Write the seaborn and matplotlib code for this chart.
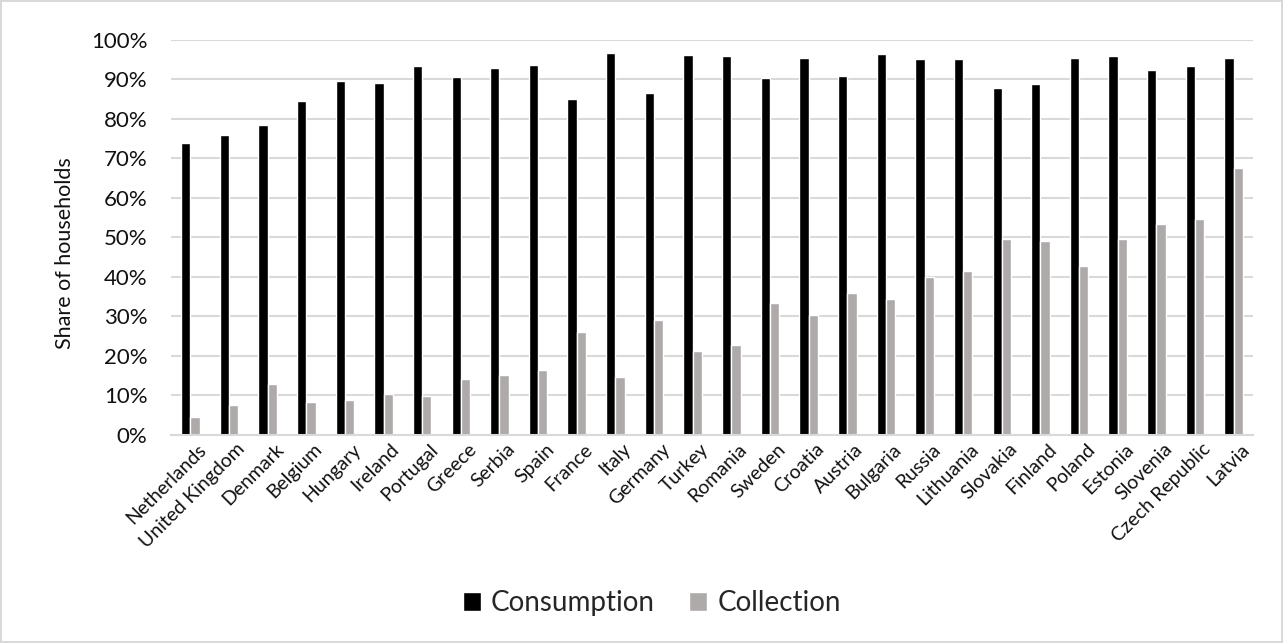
import matplotlib
matplotlib.use("Agg")
import matplotlib.pyplot as plt
import matplotlib.transforms as mtransforms
import seaborn as sns
import pandas as pd
from matplotlib.ticker import PercentFormatter, MultipleLocator

countries = [
    "Netherlands", "United Kingdom", "Denmark", "Belgium", "Hungary", "Ireland",
    "Portugal", "Greece", "Serbia", "Spain", "France", "Italy", "Germany",
    "Turkey", "Romania", "Sweden", "Croatia", "Austria", "Bulgaria", "Russia",
    "Lithuania", "Slovakia", "Finland", "Poland", "Estonia", "Slovenia",
    "Czech Republic", "Latvia",
]
consumption = [
    0.739, 0.759, 0.785, 0.845, 0.896, 0.890, 0.933, 0.907, 0.928, 0.936,
    0.850, 0.967, 0.865, 0.962, 0.960, 0.903, 0.955, 0.908, 0.964, 0.953,
    0.952, 0.878, 0.889, 0.954, 0.960, 0.925, 0.935, 0.954,
]
collection = [
    0.045, 0.077, 0.130, 0.083, 0.088, 0.105, 0.099, 0.142, 0.153, 0.165,
    0.261, 0.147, 0.291, 0.212, 0.229, 0.335, 0.304, 0.359, 0.344, 0.401,
    0.415, 0.497, 0.491, 0.427, 0.497, 0.533, 0.548, 0.676,
]
series_names = ["Consumption", "Collection"]
series_colors = ["#000000", "#aeaaaa"]

df = pd.DataFrame({
    "country": countries * 2,
    "share": consumption + collection,
    "series": [series_names[0]] * len(countries) + [series_names[1]] * len(countries),
})

sns.set_theme(style="white")
plt.rcParams["font.family"] = ["Lato", "DejaVu Sans"]

fig = plt.figure(figsize=(12.83, 6.43), dpi=100)
fig.patch.set_edgecolor("#d9d9d9")
fig.patch.set_linewidth(1.5)
ax = fig.add_axes([0.1333, 0.3235, 0.8433, 0.6143])

sns.barplot(
    data=df, x="country", y="share", hue="series",
    palette=dict(zip(series_names, series_colors)),
    width=0.48, gap=0, saturation=1, ax=ax, legend=True,
)

ax.set_ylim(0, 1)
ax.set_xlim(-0.5, len(countries) - 0.5)
ax.yaxis.set_major_locator(MultipleLocator(0.1))
ax.yaxis.set_major_formatter(PercentFormatter(1.0, decimals=0))
ax.grid(axis="y", color="#d9d9d9", linewidth=1.5)
ax.set_axisbelow(True)
for side in ["left", "right", "top"]:
    ax.spines[side].set_visible(False)
ax.spines["bottom"].set_color("#d9d9d9")
ax.spines["bottom"].set_linewidth(1.5)
ax.tick_params(axis="both", length=0)
ax.tick_params(axis="y", labelsize=16, pad=17, colors="#111111")
ax.tick_params(axis="x", labelsize=14, pad=4, colors="#111111")
# nudge the rotated country names a little to the right of each tick
shift = mtransforms.ScaledTranslation(5 / 72, 0, fig.dpi_scale_trans)
for lbl in ax.get_xticklabels():
    lbl.set_rotation(45)
    lbl.set_ha("right")
    lbl.set_rotation_mode("anchor")
    lbl.set_transform(lbl.get_transform() + shift)
ax.set_xlabel("")
ax.set_ylabel("Share of households", fontsize=15.5, color="#111111")
ax.yaxis.set_label_coords(-0.0887, 0.46)

handles, labels = ax.get_legend_handles_labels()
ax.legend(
    handles, labels, loc="center", bbox_to_anchor=(0.508, 0.062),
    bbox_transform=fig.transFigure, ncol=2, frameon=False, fontsize=20,
    handlelength=0.65, handleheight=0.65, handletextpad=0.35, columnspacing=1.25,
)

fig.savefig("out.png", dpi=100)
